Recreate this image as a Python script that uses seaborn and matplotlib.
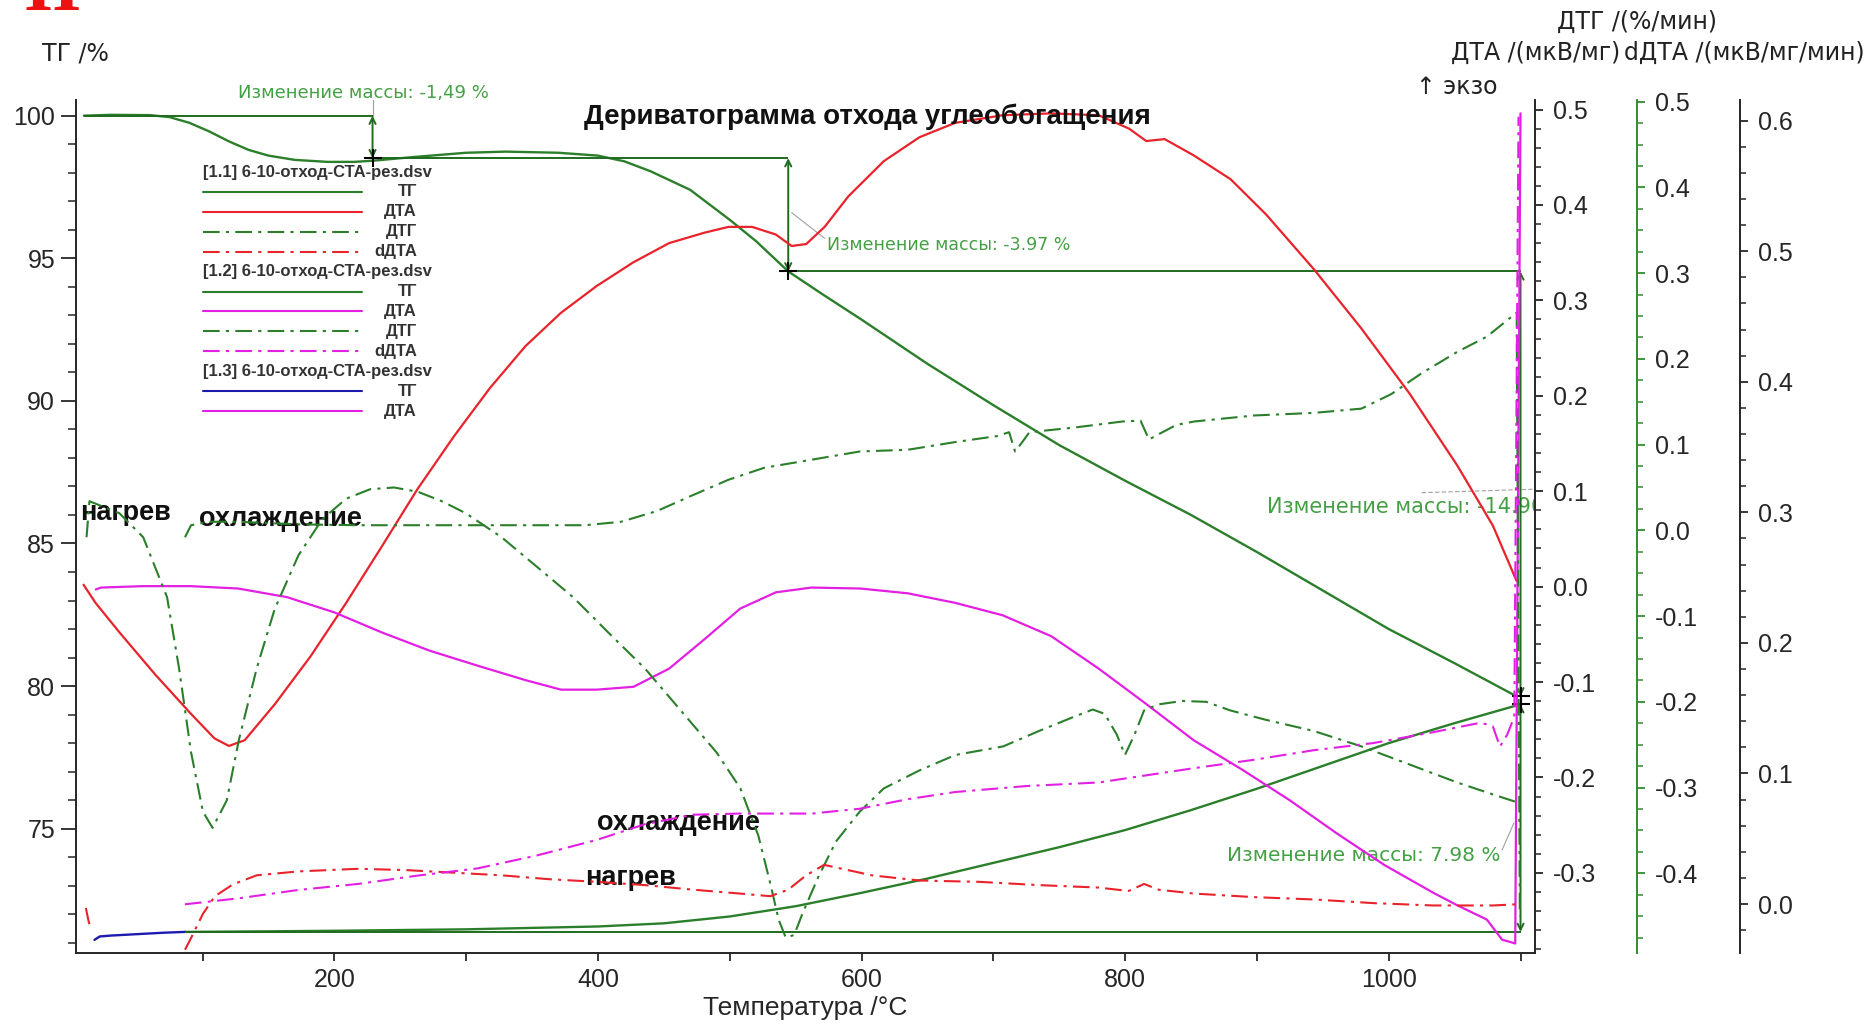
import matplotlib
matplotlib.use("Agg")
import matplotlib.pyplot as plt
from matplotlib.lines import Line2D
from matplotlib.ticker import MultipleLocator
import pandas as pd
import seaborn as sns

# ---------------------------------------------------------------- data
# mass-change steps on the heating TG curve (temperature, TG level in %)
step_T = [229.0, 544.4, 1100.0]
heat_levels = [100.0, 98.51, 94.54, 79.64]
heat_line_start = 10.0
# mass gain on cooling
cool_T = [87.0, 1100.0]
cool_levels = [71.38, 79.36]

# [1.1] heating
tg_heat_T = [10, 30, 60, 75, 90, 105, 120, 135, 150, 170, 195, 215, 229, 260, 300, 330,
             370, 400, 420, 440, 470, 500, 520, 544.4, 570, 600, 650, 700, 750, 800, 850,
             900, 950, 1000, 1050, 1097]
tg_heat = [100.0, 100.03, 100.02, 99.95, 99.75, 99.45, 99.1, 98.8, 98.6, 98.45, 98.38,
           98.38, 98.42, 98.55, 98.7, 98.74, 98.7, 98.6, 98.4, 98.05, 97.4, 96.35, 95.6,
           94.54, 93.75, 92.85, 91.3, 89.85, 88.45, 87.2, 86.0, 84.7, 83.35, 82.0, 80.8,
           79.64]

dta_heat_T = [9.7, 18.8, 37, 64, 91, 109, 120, 132, 155, 182, 209, 236, 263, 291, 318, 345,
              372, 399, 427, 454, 481, 499, 517, 535, 547, 558, 572, 590, 617, 644, 671, 707,
              744, 780, 803, 816, 830, 852, 880, 907, 943, 979, 1016, 1052, 1079, 1097]
dta_heat = [0.002, -0.017, -0.048, -0.092, -0.133, -0.159, -0.167, -0.161, -0.123, -0.073,
            -0.017, 0.042, 0.102, 0.158, 0.208, 0.252, 0.287, 0.315, 0.340, 0.360, 0.371,
            0.377, 0.377, 0.369, 0.357, 0.359, 0.377, 0.409, 0.446, 0.471, 0.486, 0.494,
            0.496, 0.494, 0.480, 0.467, 0.469, 0.452, 0.427, 0.390, 0.333, 0.271, 0.202,
            0.127, 0.064, 0.006]

dtg_heat_T = [12, 14.2, 36.9, 55.0, 73.1, 82.2, 91.3, 100.3, 107.6, 118.4, 127.5, 141.1,
              154.7, 172.8, 190.9, 209.1, 227.2, 245.3, 263.4, 281.6, 299.7, 326.9, 354.1,
              381.2, 408.4, 435.6, 462.8, 490.0, 508.1, 521.7, 530.8, 537.1, 542.5, 548.9,
              555.2, 567.0, 580.6, 598.7, 616.9, 644.0, 671.2, 707.5, 734.7, 761.9, 775.4,
              784.5, 793.6, 799.9, 807.2, 814.4, 825.3, 843.4, 861.5, 879.7, 906.8, 943.1,
              979.3, 1015.6, 1051.8, 1079.0, 1097.1]
dtg_heat = [-0.008, 0.034, 0.020, -0.008, -0.078, -0.161, -0.259, -0.328, -0.347, -0.315,
            -0.245, -0.161, -0.092, -0.029, 0.013, 0.037, 0.048, 0.050, 0.045, 0.034, 0.020,
            -0.008, -0.043, -0.078, -0.120, -0.161, -0.210, -0.259, -0.301, -0.356, -0.412,
            -0.454, -0.475, -0.472, -0.447, -0.405, -0.363, -0.328, -0.301, -0.280, -0.262,
            -0.252, -0.234, -0.217, -0.209, -0.214, -0.238, -0.262, -0.238, -0.210, -0.203,
            -0.199, -0.200, -0.210, -0.221, -0.234, -0.252, -0.273, -0.294, -0.308, -0.317]

ddta_heat_start_T = [11.5, 13.3, 15.1]
ddta_heat_start = [-0.003, -0.012, -0.019]
ddta_heat_T = [86.7, 91.3, 100.3, 109.4, 123.0, 141.1, 172.8, 218.1, 254.4, 290.6, 326.9,
               363.1, 399.4, 435.6, 471.9, 508.1, 530.8, 544.4, 558.0, 571.6, 585.2, 607.8,
               644.0, 689.4, 734.7, 780.0, 802.6, 814.4, 825.3, 852.5, 897.8, 943.1, 988.4,
               1033.7, 1079.0, 1097.1]
ddta_heat = [-0.035, -0.026, -0.0075, 0.006, 0.015, 0.022, 0.025, 0.027, 0.026, 0.024,
             0.022, 0.019, 0.017, 0.0145, 0.011, 0.008, 0.006, 0.011, 0.022, 0.030, 0.027,
             0.022, 0.018, 0.017, 0.0145, 0.0126, 0.010, 0.0154, 0.011, 0.008, 0.0053,
             0.0035, 0.0007, -0.0011, -0.0011, -0.0002]

# [1.2] cooling
tg_cool_T = [87, 150, 200, 300, 400, 450, 500, 550, 600, 650, 700, 750, 800, 850, 900,
             950, 1000, 1050, 1100]
tg_cool = [71.38, 71.40, 71.42, 71.47, 71.57, 71.68, 71.92, 72.28, 72.75, 73.25, 73.8,
           74.35, 74.95, 75.65, 76.4, 77.2, 78.0, 78.7, 79.36]

dta_cool_T = [19, 23, 55, 91, 127, 164, 200, 236, 272, 309, 345, 372, 399, 427, 454, 481,
              508, 535, 562, 599, 635, 671, 707, 744, 780, 816, 852, 889, 925, 961, 997,
              1034, 1052, 1074.5, 1086, 1096, 1100]
dta_cool = [-0.003, -0.001, 0.0005, 0.0005, -0.002, -0.011, -0.027, -0.048, -0.067, -0.083,
            -0.098, -0.108, -0.108, -0.105, -0.086, -0.055, -0.023, -0.006, -0.001, -0.002,
            -0.007, -0.017, -0.030, -0.052, -0.086, -0.123, -0.161, -0.192, -0.224, -0.259,
            -0.292, -0.321, -0.334, -0.349, -0.370, -0.374, 0.496]

dtg_cool_T = [86.7, 91.3, 104.8, 127.5, 172.8, 218.1, 263.4, 308.7, 354.1, 390.3, 417.5,
              444.7, 471.9, 499.0, 526.2, 562.5, 598.7, 635.0, 671.2, 702.9, 712.0, 716.5,
              722.0, 727.4, 761.9, 798.1, 811.7, 818.1, 825.3, 838.9, 852.5, 897.8, 943.1,
              979.3, 1002.0, 1024.7, 1051.8, 1074.5, 1097.1, 1099.5]
dtg_cool = [-0.008, 0.006, 0.010, 0.010, 0.007, 0.006, 0.006, 0.006, 0.006, 0.006, 0.010,
            0.0225, 0.041, 0.059, 0.073, 0.0825, 0.092, 0.094, 0.103, 0.110, 0.1145, 0.092,
            0.103, 0.1145, 0.120, 0.127, 0.128, 0.106, 0.112, 0.123, 0.127, 0.134, 0.137,
            0.142, 0.159, 0.183, 0.208, 0.226, 0.254, -0.45]

ddta_cool_T = [86.7, 127.5, 172.8, 218.1, 263.4, 308.7, 354.1, 399.4, 435.6, 471.9, 508.1,
               562.5, 598.7, 635.0, 671.2, 725.6, 780.0, 816.2, 852.5, 897.8, 943.1, 988.4,
               1033.7, 1069.9, 1079.0, 1084.4, 1089.9, 1095.3, 1098.5]
ddta_cool = [-0.0002, 0.0044, 0.0108, 0.0154, 0.0218, 0.0273, 0.0373, 0.0492, 0.0611,
             0.0684, 0.0693, 0.0693, 0.0730, 0.0803, 0.0858, 0.0904, 0.0931, 0.0986, 0.1041,
             0.1105, 0.1178, 0.1233, 0.1316, 0.1389, 0.1361, 0.1206, 0.1297, 0.1435, 0.603]

# [1.3]
tg3_T = [18, 22, 30, 50, 70, 87]
tg3 = [71.10, 71.22, 71.25, 71.30, 71.35, 71.38]

# tick values
x_major = [100, 200, 300, 400, 500, 600, 700, 800, 900, 1000, 1100]
x_labels = ["", "200", "", "400", "", "600", "", "800", "", "1000", ""]
tg_ticks = [75, 80, 85, 90, 95, 100]
dta_ticks = [-0.3, -0.2, -0.1, 0.0, 0.1, 0.2, 0.3, 0.4, 0.5]
dtg_ticks = [-0.4, -0.3, -0.2, -0.1, 0.0, 0.1, 0.2, 0.3, 0.4, 0.5]
ddta_ticks = [0.0, 0.1, 0.2, 0.3, 0.4, 0.5, 0.6]

# ---------------------------------------------------------------- style
GREEN = "#2b7f2b"
DARK_GREEN = "#1f6b1f"
RED = "#e8232b"
MAGENTA = "#e31fe3"
BLUE = "#1b1bb0"
ANN = "#45a045"
LEADER = "#a0a0a0"
DASHDOT = (0, (8, 3, 1.5, 3))

sns.set_theme(style="ticks")
plt.rcParams["font.family"] = ["Liberation Sans", "DejaVu Sans"]
plt.rcParams["axes.unicode_minus"] = False
plt.rcParams["axes.linewidth"] = 1.4

W, H = 1872, 1026


def fx(px):
    return px / W


def fy(py):
    return 1 - py / H


fig = plt.figure(figsize=(W / 100, H / 100), dpi=100)
fig.patch.set_facecolor("white")
ax = fig.add_axes([fx(76), fy(953), fx(1535) - fx(76), fy(100) - fy(953)])
ax_dta = ax.twinx()
ax_dtg = ax.twinx()
ax_ddta = ax.twinx()


def draw(axis, T, v, color, ls="-", lw=1.6):
    df = pd.DataFrame({"T": T, "v": v})
    sns.lineplot(data=df, x="T", y="v", ax=axis, color=color, linewidth=lw,
                 linestyle=ls, estimator=None, sort=False, legend=False)


# TG curves (left axis)
draw(ax, tg_heat_T, tg_heat, GREEN, lw=1.7)
draw(ax, tg_cool_T, tg_cool, GREEN, lw=1.7)
draw(ax, tg3_T, tg3, BLUE, lw=1.7)

# DTA curves
draw(ax_dta, dta_heat_T, dta_heat, RED)
draw(ax_dta, dta_cool_T, dta_cool, MAGENTA)

# DTG curves
draw(ax_dtg, dtg_heat_T, dtg_heat, GREEN, ls=DASHDOT, lw=1.5)
draw(ax_dtg, dtg_cool_T, dtg_cool, GREEN, ls=DASHDOT, lw=1.5)

# dDTA curves
draw(ax_ddta, ddta_heat_start_T, ddta_heat_start, RED, ls=DASHDOT, lw=1.5)
draw(ax_ddta, ddta_heat_T, ddta_heat, RED, ls=DASHDOT, lw=1.5)
draw(ax_ddta, ddta_cool_T, ddta_cool, MAGENTA, ls=DASHDOT, lw=1.5)

# ---------------------------------------------------------------- mass-change marks
seg_starts = [heat_line_start] + step_T[:-1]
for i, level in enumerate(heat_levels[:-1]):
    ax.hlines(level, seg_starts[i], step_T[i], color=DARK_GREEN, lw=1.4, zorder=3)
ax.hlines(cool_levels[0], cool_T[0], cool_T[1], color=DARK_GREEN, lw=1.4, zorder=3)

arrow_kw = dict(arrowstyle="<->", color=DARK_GREEN, lw=1.4, shrinkA=0, shrinkB=0,
                mutation_scale=11)
for i, T in enumerate(step_T):
    ax.annotate("", xy=(T, heat_levels[i + 1]), xytext=(T, heat_levels[i]),
                arrowprops=arrow_kw, zorder=4)
ax.annotate("", xy=(cool_T[1], cool_levels[1]), xytext=(cool_T[1], cool_levels[0]),
            arrowprops=arrow_kw, zorder=4)

cross_T = step_T + [cool_T[1]]
cross_v = heat_levels[1:] + [cool_levels[1]]
ax.scatter(cross_T, cross_v, marker="+", s=180, linewidths=1.5, color="black", zorder=5)

changes = [heat_levels[i + 1] - heat_levels[i] for i in range(3)]
gain = cool_levels[1] - cool_levels[0]
lbl1 = f"Изменение массы: {changes[0]:.2f} %".replace(".", ",")
lbl2 = f"Изменение массы: {changes[1]:.2f} %"
lbl3 = f"Изменение массы: {changes[2]:.2f} %"
lbl4 = f"Изменение массы: {gain:.2f} %"

ann_font = dict(family=["DejaVu Sans"], color=ANN)
ax.text(222, 100.8, lbl1, ha="center", va="center", fontsize=13, **ann_font)
ax.text(574, 95.48, lbl2, ha="left", va="center", fontsize=12.5, **ann_font)
ax.text(908, 86.28, lbl3, ha="left", va="center", fontsize=15, clip_on=True, **ann_font)
ax.text(877, 74.06, lbl4, ha="left", va="center", fontsize=14.5, **ann_font)

# leader lines from labels to the arrows
ax.plot([229, 229], [100.55, 100.0], color=LEADER, lw=0.8)
ax.plot([547, 572], [96.6, 95.7], color=LEADER, lw=0.8)
ax.plot([1025, 1109], [86.78, 86.9], color=LEADER, lw=0.8, ls=(0, (4, 2)))
ax.plot([1086, 1095], [74.25, 75.2], color=LEADER, lw=0.8)

# run labels
run_font = dict(fontsize=19.5, fontweight="bold", color="#111111", zorder=6)
ax.text(7, 86.07, "нагрев", ha="left", va="center", **run_font)
ax.text(97.6, 85.86, "охлаждение", ha="left", va="center", **run_font)
ax.text(399.4, 75.19, "охлаждение", ha="left", va="center", **run_font)
ax.text(390.3, 73.26, "нагрев", ha="left", va="center", **run_font)

# ---------------------------------------------------------------- axes
ax.set_xlim(4, 1111)
ax.set_ylim(70.64, 100.55)
ax_dta.set_ylim(-0.384, 0.510)
ax_dtg.set_ylim(-0.493, 0.502)
ax_ddta.set_ylim(-0.0375, 0.6158)

for a in (ax, ax_dta, ax_dtg, ax_ddta):
    a.set_ylabel("")
    a.spines["top"].set_visible(False)
    a.grid(False)
ax.set_xlabel("Температура /°C", fontsize=19, labelpad=3)
ax.spines["right"].set_visible(False)

for a, pos in ((ax_dta, 1.0), (ax_dtg, 1.0698), (ax_ddta, 1.1407)):
    a.spines["left"].set_visible(False)
    a.spines["bottom"].set_visible(False)
    a.spines["right"].set_position(("axes", pos))
    a.patch.set_visible(False)

ax.set_xticks(x_major, x_labels)
ax.set_yticks(tg_ticks, [str(t) for t in tg_ticks])
ax.yaxis.set_minor_locator(MultipleLocator(1))
ax.tick_params(axis="x", which="major", length=6, width=1.3, labelsize=18, pad=5)
ax.tick_params(axis="y", which="major", length=11, width=1.3, labelsize=18, pad=4)
ax.tick_params(axis="y", which="minor", length=5.5, width=1.1, left=True)

ax_dta.set_yticks(dta_ticks, [f"{t:.1f}" for t in dta_ticks])
ax_dta.yaxis.set_minor_locator(MultipleLocator(0.02))
ax_dtg.set_yticks(dtg_ticks, [f"{t:.1f}" for t in dtg_ticks])
ax_dtg.yaxis.set_minor_locator(MultipleLocator(0.025))
ax_ddta.set_yticks(ddta_ticks, [f"{t:.1f}" for t in ddta_ticks])
ax_ddta.yaxis.set_minor_locator(MultipleLocator(0.02))
for a in (ax_dta, ax_dtg, ax_ddta):
    a.tick_params(axis="y", which="major", length=6, width=1.3, labelsize=18, pad=7)
    a.tick_params(axis="y", which="minor", length=4, width=1.1, right=True)
ax_dtg.spines["right"].set_color("#2f8f2f")
ax_dtg.tick_params(axis="y", which="both", color="#2f8f2f")

# ---------------------------------------------------------------- figure texts
hdr_font = dict(fontsize=17, ha="center", va="center", color="#222222",
                family=["DejaVu Sans"])
fig.text(fx(24), fy(9.5), "II", fontsize=54, fontweight="bold", color="#ee1111",
         family=["Liberation Serif"], ha="left", va="baseline")
fig.text(fx(42), fy(54), "ТГ /%", fontsize=17, ha="left", va="center", color="#222222",
         family=["DejaVu Sans"])
fig.text(fx(867), fy(117), "Дериватограмма отхода углеобогащения", fontsize=20,
         fontweight="bold", ha="center", va="center", color="#111111")
fig.text(fx(1637), fy(22), "ДТГ /(%/мин)", **hdr_font)
fig.text(fx(1536), fy(53), "ДТА /(мкВ/мг)", **hdr_font)
fig.text(fx(1744), fy(53), "dДТА /(мкВ/мг/мин)", **hdr_font)
fig.text(fx(1416), fy(87), "↑ экзо", fontsize=17, ha="left", va="center",
         color="#222222", family=["DejaVu Sans"])

# legend block
legend_rows = [
    ("[1.1] 6-10-отход-СТА-рез.dsv", None, None),
    ("ТГ", GREEN, "-"),
    ("ДТА", RED, "-"),
    ("ДТГ", GREEN, DASHDOT),
    ("dДТА", RED, DASHDOT),
    ("[1.2] 6-10-отход-СТА-рез.dsv", None, None),
    ("ТГ", GREEN, "-"),
    ("ДТА", MAGENTA, "-"),
    ("ДТГ", GREEN, DASHDOT),
    ("dДТА", MAGENTA, DASHDOT),
    ("[1.3] 6-10-отход-СТА-рез.dsv", None, None),
    ("ТГ", BLUE, "-"),
    ("ДТА", MAGENTA, "-"),
]
for i, (label, color, ls) in enumerate(legend_rows):
    yy = fy(172 + 19.92 * i)
    if color is None:
        fig.text(fx(203), yy, label, fontsize=12, fontweight="bold", ha="left",
                 va="center", color="#333333")
    else:
        fig.add_artist(Line2D([fx(203), fx(362)], [yy, yy], transform=fig.transFigure,
                              color=color, lw=1.5, linestyle=ls))
        fig.text(fx(417), yy, label, fontsize=12, fontweight="bold", ha="right",
                 va="center", color="#333333")

fig.savefig("out.png", dpi=100, facecolor="white")
